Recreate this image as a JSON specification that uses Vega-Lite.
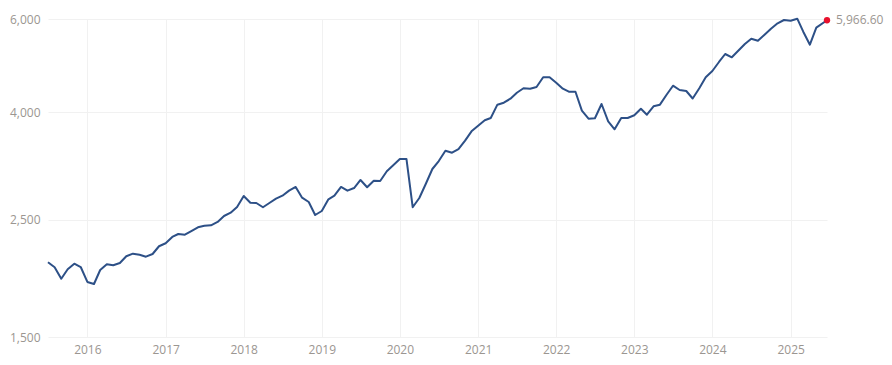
{
  "$schema": "https://vega.github.io/schema/vega-lite/v6.json",
  "width": 779,
  "height": 318,
  "autosize": {"type": "none"},
  "padding": {"left": 48, "top": 19, "right": 65, "bottom": 28},
  "background": "#ffffff",
  "config": {
    "view": {"stroke": null},
    "font": "Open Sans",
    "axis": {
      "domain": false,
      "ticks": false,
      "gridColor": "#f1f1f1",
      "gridWidth": 1,
      "labelColor": "#9b9691",
      "labelFontSize": 12,
      "labelFont": "Open Sans",
      "title": null
    }
  },
  "data": {
    "values": [
      {"date": "2015-07-01", "value": 2078},
      {"date": "2015-08-01", "value": 2033},
      {"date": "2015-09-01", "value": 1934},
      {"date": "2015-10-01", "value": 2015},
      {"date": "2015-11-01", "value": 2065},
      {"date": "2015-12-01", "value": 2035},
      {"date": "2016-01-01", "value": 1907},
      {"date": "2016-02-01", "value": 1890},
      {"date": "2016-03-01", "value": 2009},
      {"date": "2016-04-01", "value": 2060},
      {"date": "2016-05-01", "value": 2051},
      {"date": "2016-06-01", "value": 2071},
      {"date": "2016-07-01", "value": 2133},
      {"date": "2016-08-01", "value": 2157},
      {"date": "2016-09-01", "value": 2147},
      {"date": "2016-10-01", "value": 2129},
      {"date": "2016-11-01", "value": 2154},
      {"date": "2016-12-01", "value": 2228},
      {"date": "2017-01-01", "value": 2257},
      {"date": "2017-02-01", "value": 2320},
      {"date": "2017-03-01", "value": 2350},
      {"date": "2017-04-01", "value": 2343},
      {"date": "2017-05-01", "value": 2381},
      {"date": "2017-06-01", "value": 2420},
      {"date": "2017-07-01", "value": 2437},
      {"date": "2017-08-01", "value": 2441},
      {"date": "2017-09-01", "value": 2477},
      {"date": "2017-10-01", "value": 2542},
      {"date": "2017-11-01", "value": 2579},
      {"date": "2017-12-01", "value": 2644},
      {"date": "2018-01-01", "value": 2774},
      {"date": "2018-02-01", "value": 2694},
      {"date": "2018-03-01", "value": 2690},
      {"date": "2018-04-01", "value": 2641},
      {"date": "2018-05-01", "value": 2690},
      {"date": "2018-06-01", "value": 2741},
      {"date": "2018-07-01", "value": 2777},
      {"date": "2018-08-01", "value": 2839},
      {"date": "2018-09-01", "value": 2885},
      {"date": "2018-10-01", "value": 2753},
      {"date": "2018-11-01", "value": 2702},
      {"date": "2018-12-01", "value": 2553},
      {"date": "2019-01-01", "value": 2598},
      {"date": "2019-02-01", "value": 2734},
      {"date": "2019-03-01", "value": 2777},
      {"date": "2019-04-01", "value": 2885},
      {"date": "2019-05-01", "value": 2839},
      {"date": "2019-06-01", "value": 2872},
      {"date": "2019-07-01", "value": 2974},
      {"date": "2019-08-01", "value": 2881},
      {"date": "2019-09-01", "value": 2965},
      {"date": "2019-10-01", "value": 2961},
      {"date": "2019-11-01", "value": 3089},
      {"date": "2019-12-01", "value": 3171},
      {"date": "2020-01-01", "value": 3259},
      {"date": "2020-02-01", "value": 3259},
      {"date": "2020-03-01", "value": 2641},
      {"date": "2020-04-01", "value": 2750},
      {"date": "2020-05-01", "value": 2923},
      {"date": "2020-06-01", "value": 3120},
      {"date": "2020-07-01", "value": 3230},
      {"date": "2020-08-01", "value": 3379},
      {"date": "2020-09-01", "value": 3350},
      {"date": "2020-10-01", "value": 3404},
      {"date": "2020-11-01", "value": 3530},
      {"date": "2020-12-01", "value": 3677},
      {"date": "2021-01-01", "value": 3768},
      {"date": "2021-02-01", "value": 3858},
      {"date": "2021-03-01", "value": 3897},
      {"date": "2021-04-01", "value": 4130},
      {"date": "2021-05-01", "value": 4166},
      {"date": "2021-06-01", "value": 4239},
      {"date": "2021-07-01", "value": 4351},
      {"date": "2021-08-01", "value": 4436},
      {"date": "2021-09-01", "value": 4428},
      {"date": "2021-10-01", "value": 4460},
      {"date": "2021-11-01", "value": 4654},
      {"date": "2021-12-01", "value": 4654},
      {"date": "2022-01-01", "value": 4545},
      {"date": "2022-02-01", "value": 4428},
      {"date": "2022-03-01", "value": 4370},
      {"date": "2022-04-01", "value": 4370},
      {"date": "2022-05-01", "value": 4023},
      {"date": "2022-06-01", "value": 3885},
      {"date": "2022-07-01", "value": 3892},
      {"date": "2022-08-01", "value": 4142},
      {"date": "2022-09-01", "value": 3841},
      {"date": "2022-10-01", "value": 3710},
      {"date": "2022-11-01", "value": 3897},
      {"date": "2022-12-01", "value": 3897},
      {"date": "2023-01-01", "value": 3943},
      {"date": "2023-02-01", "value": 4058},
      {"date": "2023-03-01", "value": 3953},
      {"date": "2023-04-01", "value": 4101},
      {"date": "2023-05-01", "value": 4130},
      {"date": "2023-06-01", "value": 4313},
      {"date": "2023-07-01", "value": 4486},
      {"date": "2023-08-01", "value": 4403},
      {"date": "2023-09-01", "value": 4384},
      {"date": "2023-10-01", "value": 4243},
      {"date": "2023-11-01", "value": 4436},
      {"date": "2023-12-01", "value": 4654},
      {"date": "2024-01-01", "value": 4783},
      {"date": "2024-02-01", "value": 4975},
      {"date": "2024-03-01", "value": 5151},
      {"date": "2024-04-01", "value": 5077},
      {"date": "2024-05-01", "value": 5225},
      {"date": "2024-06-01", "value": 5380},
      {"date": "2024-07-01", "value": 5506},
      {"date": "2024-08-01", "value": 5458},
      {"date": "2024-09-01", "value": 5603},
      {"date": "2024-10-01", "value": 5752},
      {"date": "2024-11-01", "value": 5889},
      {"date": "2024-12-01", "value": 5974},
      {"date": "2025-01-01", "value": 5956},
      {"date": "2025-02-01", "value": 6008},
      {"date": "2025-03-01", "value": 5677},
      {"date": "2025-04-01", "value": 5364},
      {"date": "2025-05-01", "value": 5777},
      {"date": "2025-06-20", "value": 5966.6}
    ]
  },
  "encoding": {
    "x": {
      "field": "date",
      "type": "temporal",
      "scale": {"type": "utc", "nice": false},
      "axis": {
        "format": "%Y",
        "labelPadding": 7,
        "grid": true,
        "values": [
          {"year": 2016, "month": 1, "date": 1, "utc": true},
          {"year": 2017, "month": 1, "date": 1, "utc": true},
          {"year": 2018, "month": 1, "date": 1, "utc": true},
          {"year": 2019, "month": 1, "date": 1, "utc": true},
          {"year": 2020, "month": 1, "date": 1, "utc": true},
          {"year": 2021, "month": 1, "date": 1, "utc": true},
          {"year": 2022, "month": 1, "date": 1, "utc": true},
          {"year": 2023, "month": 1, "date": 1, "utc": true},
          {"year": 2024, "month": 1, "date": 1, "utc": true},
          {"year": 2025, "month": 1, "date": 1, "utc": true}
        ]
      }
    },
    "y": {
      "field": "value",
      "type": "quantitative",
      "scale": {"type": "log", "domain": [1500, 6000], "nice": false},
      "axis": {
        "values": [1500, 2500, 4000, 6000],
        "format": ",",
        "labelPadding": 8,
        "grid": true
      }
    }
  },
  "layer": [
    {
      "mark": {"type": "line", "color": "#2d5087", "strokeWidth": 2, "strokeJoin": "round"}
    },
    {
      "transform": [{"filter": "utcyear(datum.date) == 2025 && utcmonth(datum.date) == 5"}],
      "mark": {"type": "point", "filled": true, "color": "#e8112d", "size": 40, "opacity": 1}
    },
    {
      "transform": [{"filter": "utcyear(datum.date) == 2025 && utcmonth(datum.date) == 5"}],
      "mark": {"type": "text", "align": "left", "baseline": "middle", "dx": 9, "fontSize": 12, "color": "#9b9691", "font": "Open Sans"},
      "encoding": {"text": {"field": "value", "type": "quantitative", "format": ",.2f"}}
    }
  ]
}
